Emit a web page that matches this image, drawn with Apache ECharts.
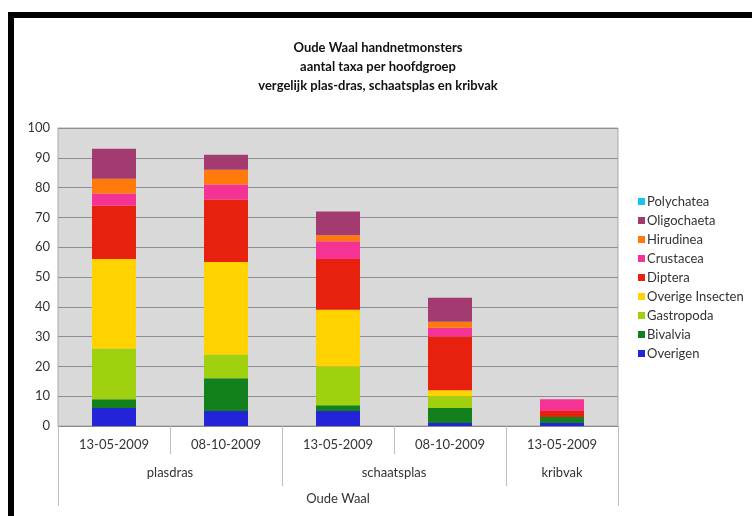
<!DOCTYPE html>
<html>
<head>
<meta charset="utf-8">
<script src="https://cdn.jsdelivr.net/npm/echarts@6/dist/echarts.min.js"></script>
<style>
  html, body { margin: 0; padding: 0; background: #fff; }
  #chart { width: 752px; height: 516px; }
</style>
</head>
<body>
<div id="chart"></div>
<script>
// sample dates per location (bottom axis row)
var dates = ['13-05-2009', '08-10-2009', '13-05-2009', '08-10-2009', '13-05-2009'];
// second row: location groups, centred over their dates
var groupNames = ['plasdras', 'schaatsplas', 'kribvak'];
var groupCenters = [1, 3, 4.5];
var groupEdges = [0, 2, 4, 5];
var yTicks = [0, 10, 20, 30, 40, 50, 60, 70, 80, 90, 100];

// aantal taxa per hoofdgroep, stacked bottom -> top
var overigen        = [6, 5, 5, 1, 1];
var bivalvia        = [3, 11, 2, 5, 2];
var gastropoda      = [17, 8, 13, 4, 0];
var overigeInsecten = [30, 31, 19, 2, 0];
var diptera         = [18, 21, 17, 18, 2];
var crustacea       = [4, 5, 6, 3, 4];
var hirudinea       = [5, 5, 2, 2, 0];
var oligochaeta     = [10, 5, 8, 8, 0];
var polychatea      = [0, 0, 0, 0, 0];

var font = 'Lato, "Liberation Sans", sans-serif';

var series = [
    {name: 'Overigen', data: overigen, color: '#2323d8'},
    {name: 'Bivalvia', data: bivalvia, color: '#12801c'},
    {name: 'Gastropoda', data: gastropoda, color: '#9fd10f'},
    {name: 'Overige Insecten', data: overigeInsecten, color: '#ffd200'},
    {name: 'Diptera', data: diptera, color: '#e8210f'},
    {name: 'Crustacea', data: crustacea, color: '#f53395'},
    {name: 'Hirudinea', data: hirudinea, color: '#ff7a0a'},
    {name: 'Oligochaeta', data: oligochaeta, color: '#a33a70'},
    {name: 'Polychatea', data: polychatea, color: '#19c3ef'}
].map(function (s) {
    return {
        name: s.name,
        type: 'bar',
        stack: 'taxa',
        barWidth: 44,
        data: s.data,
        itemStyle: {color: s.color}
    };
});

var chart = echarts.init(document.getElementById('chart'));
chart.setOption({
    animation: false,
    backgroundColor: '#fff',
    textStyle: {fontFamily: font},
    title: {
        text: 'Oude Waal handnetmonsters\naantal taxa per hoofdgroep\nvergelijk plas-dras, schaatsplas en kribvak',
        left: 373,
        top: 33,
        textAlign: 'center',
        textStyle: {fontSize: 13, fontWeight: 'bold', color: '#111', lineHeight: 19, fontFamily: font}
    },
    legend: {
        orient: 'vertical',
        left: 633,
        top: 189,
        itemWidth: 7,
        itemHeight: 7,
        itemGap: 4,
        icon: 'rect',
        data: series.map(function (s) { return s.name; }).reverse(),
        textStyle: {fontSize: 13, color: '#333', padding: [0, 0, 0, -3], lineHeight: 15}
    },
    grid: {
        left: 58, right: 134, top: 128, bottom: 90,
        show: true,
        backgroundColor: '#d9d9d9',
        borderColor: '#a8a8a8',
        borderWidth: 1
    },
    xAxis: [{
        type: 'category',
        data: dates,
        axisLine: {lineStyle: {color: '#8a8a8a'}},
        axisTick: {show: true, length: 28, lineStyle: {color: '#bdbdbd'}},
        axisLabel: {margin: 12, fontSize: 13, color: '#333'}
    }, {
        type: 'value',
        min: 0, max: 5,
        position: 'bottom',
        offset: 28,
        axisLine: {show: false},
        splitLine: {show: false},
        axisTick: {show: true, customValues: groupEdges, length: 32, lineStyle: {color: '#bdbdbd'}},
        axisLabel: {
            customValues: groupCenters, margin: 12, fontSize: 13, color: '#333',
            formatter: function (v) { return groupNames[groupCenters.indexOf(v)]; }
        }
    }, {
        type: 'value',
        min: 0, max: 5,
        position: 'bottom',
        offset: 60,
        axisLine: {show: false},
        splitLine: {show: false},
        axisTick: {show: true, customValues: [0, 5], length: 20, lineStyle: {color: '#bdbdbd'}},
        axisLabel: {
            customValues: [2.5], margin: 6, fontSize: 13, color: '#333',
            formatter: function () { return 'Oude Waal'; }
        }
    }],
    yAxis: {
        type: 'value',
        min: yTicks[0], max: yTicks[yTicks.length - 1], interval: 10,
        axisLine: {show: false},
        axisTick: {show: false},
        axisLabel: {fontSize: 13, color: '#333', margin: 8},
        splitLine: {lineStyle: {color: '#8e8e8e'}}
    },
    graphic: [
        {type: 'rect', shape: {x: 8, y: 12, width: 744, height: 6}, style: {fill: '#000'}},
        {type: 'rect', shape: {x: 8, y: 12, width: 6, height: 504}, style: {fill: '#000'}}
    ],
    series: series
});
</script>
</body>
</html>
